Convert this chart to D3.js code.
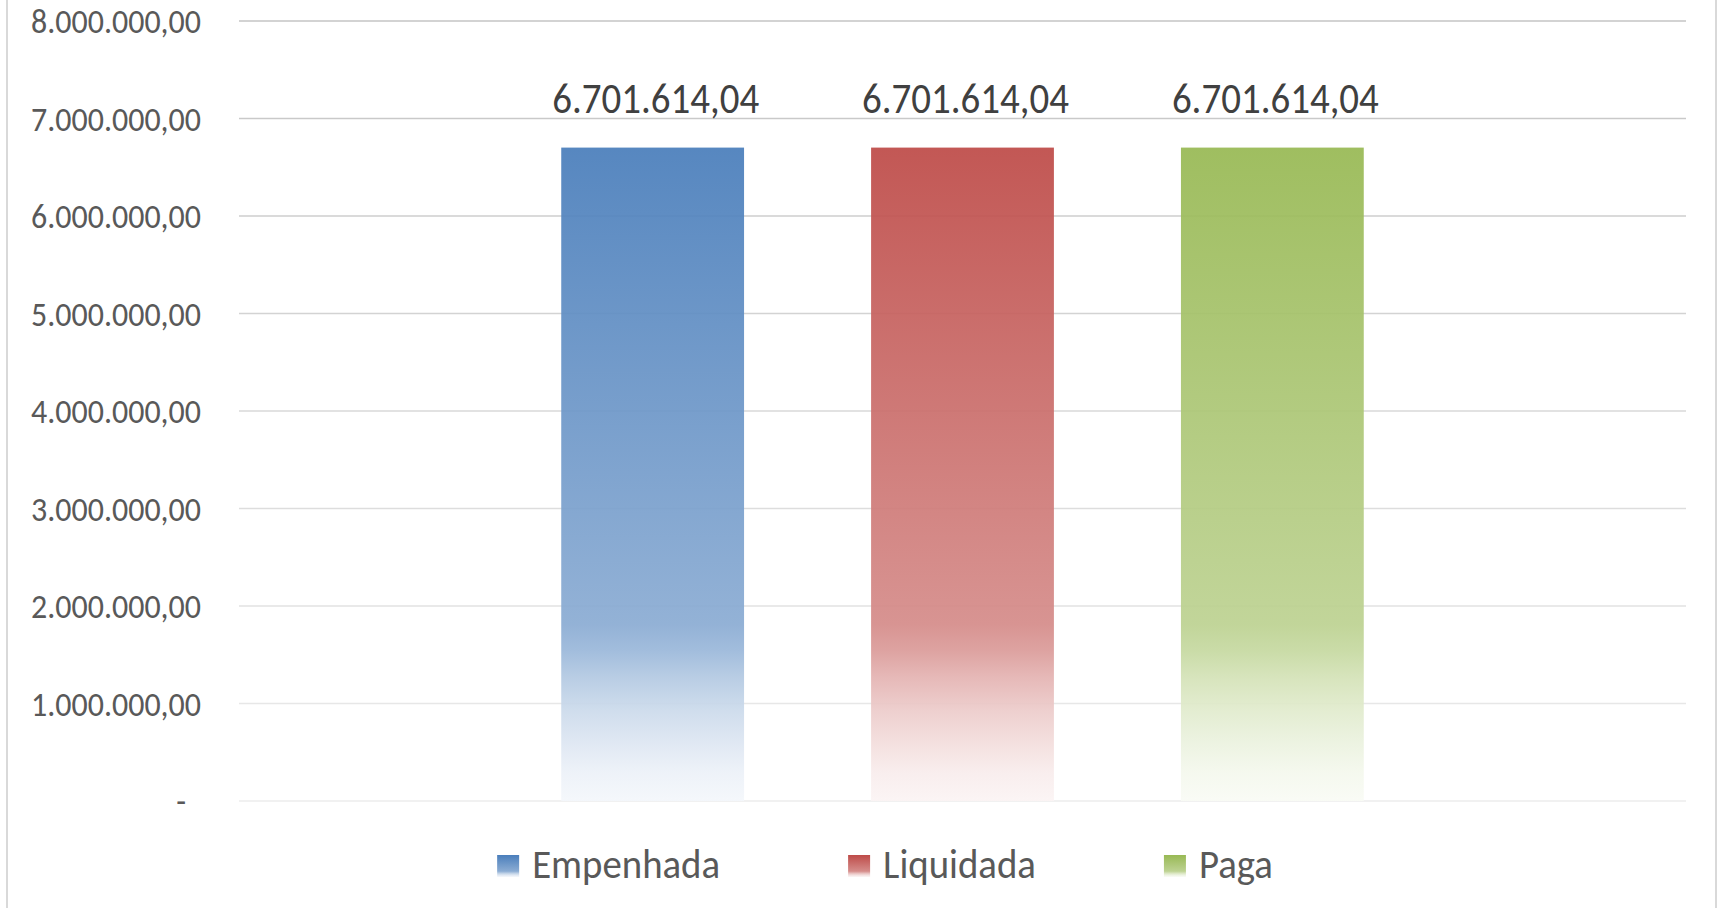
<!DOCTYPE html>
<html>
<head>
<meta charset="utf-8">
<script src="https://cdn.jsdelivr.net/npm/d3@7"></script>
<style>
  body { margin: 0; background: #fff; }
  text { font-family: Carlito, Calibri, Lato, sans-serif; }
</style>
</head>
<body>
<svg id="chart"></svg>
<script>
// data
const series = ["Empenhada", "Liquidada", "Paga"];
const values = [6701614.04, 6701614.04, 6701614.04];
const colors = ["#4a7ebb", "#be4b48", "#98b954"];
const yTicks = [0, 1000000, 2000000, 3000000, 4000000, 5000000, 6000000, 7000000, 8000000];

const W = 1723, H = 908;
const plotL = 239, plotR = 1686, plotT = 21, plotB = 801;

const br = d3.formatLocale({decimal: ",", thousands: ".", grouping: [3], currency: ["R$", ""]});
const fmt = br.format(",.2f");

const svg = d3.select("#chart").attr("width", W).attr("height", H);
const defs = svg.append("defs");

// excel style fade: tint towards white along the bar
const gOff = [0, 0.73, 0.77, 0.81, 0.86, 0.91, 0.955, 1];
const gTint = [0, 0.36, 0.45, 0.58, 0.71, 0.81, 0.895, 0.94];
series.forEach(function(s, i) {
    var lg = defs.append("linearGradient").attr("id", "grad" + i)
        .attr("x1", 0).attr("y1", 0).attr("x2", 0).attr("y2", 1);
    gOff.forEach(function(o, k) {
        lg.append("stop").attr("offset", o)
            .attr("stop-color", d3.interpolateRgb(colors[i], "#fff")(gTint[k]));
    });
});

// chart border
svg.append("rect").attr("x", 7).attr("y", -5).attr("width", 1709).attr("height", H + 10)
    .attr("fill", "none").attr("stroke", "#d9d9d9").attr("stroke-width", 2);

var y = d3.scaleLinear().domain([0, 8000000]).range([plotB, plotT]);
var x0 = d3.scaleBand().domain(["total"]).range([plotL, plotR]);
var x1 = d3.scaleBand().domain(series).range([0, x0.bandwidth()])
    .paddingInner(0.41).paddingOuter(1.04);

// gridlines, lighter toward the bottom
var gridCol = d3.scaleLinear().domain([0, 8000000]).range(["#ececec", "#c4c4c4"]);
svg.append("g").selectAll("line").data(yTicks).join("line")
    .attr("x1", plotL).attr("x2", plotR)
    .attr("y1", d => y(d)).attr("y2", d => y(d))
    .attr("stroke", d => gridCol(d)).attr("stroke-width", 1.6);

// y axis labels
var yAxis = svg.append("g").attr("transform", "translate(" + plotL + ",0)")
    .call(d3.axisLeft(y).tickValues(yTicks).tickSize(0).tickPadding(38)
        .tickFormat(d => d === 0 ? "-" : fmt(d)));
yAxis.select(".domain").remove();
yAxis.attr("font-family", null);
yAxis.selectAll("text").attr("fill", "#595959").attr("dy", "0.33em");
yAxis.selectAll(".tick").filter(d => d === 0).select("text").attr("x", -53);

// bars
var bars = svg.append("g").attr("transform", "translate(" + x0("total") + ",0)");
bars.selectAll("rect").data(values).join("rect")
    .attr("x", (d, i) => x1(series[i]))
    .attr("width", x1.bandwidth())
    .attr("y", d => y(d))
    .attr("height", d => y(0) - y(d))
    .attr("fill", (d, i) => "url(#grad" + i + ")")
    .attr("opacity", 0.93);

var labels = bars.selectAll("text").data(values).join("text")
    .attr("x", (d, i) => x1(series[i]) + x1.bandwidth() / 2 + 3)
    .attr("y", d => y(d) - 35)
    .attr("text-anchor", "middle")
    .attr("fill", "#404040")
    .text(d => fmt(d));

// legend
var legend = svg.append("g");
var items = legend.selectAll("g").data(series).join("g");
items.append("rect").attr("width", 22).attr("height", 22).attr("y", 855)
    .attr("fill", (d, i) => "url(#grad" + i + ")");
var legText = items.append("text").attr("y", 878).attr("fill", "#595959").text(d => d);

// size fonts so the widths match the picture
function fit(sel, target) {
    sel.attr("font-size", 30);
    var w = d3.max(sel.nodes(), n => n.getComputedTextLength());
    var fs = 30 * target / w;
    sel.attr("font-size", fs);
    return fs;
}
// the picture's text is a bit taller than the font gives
function stretch(sel, s) {
    sel.each(function() {
        var t = d3.select(this);
        var tx = +t.attr("x") || 0, ty = +t.attr("y") || 0;
        t.attr("x", 0).attr("y", 0)
            .attr("transform", "translate(" + tx + "," + ty + ") scale(1," + s + ")");
    });
}
var axisFs = fit(yAxis.selectAll(".tick text").filter(d => d !== 0), 170);
yAxis.selectAll(".tick").filter(d => d === 0).select("text").attr("font-size", axisFs);
fit(labels, 207);
var legFs = fit(legText.filter(d => d === "Empenhada"), 188);
legText.attr("font-size", legFs);

// lay the legend out from text widths, centred
var xPos = 0;
items.each(function() {
    var g = d3.select(this);
    g.select("rect").attr("x", xPos);
    g.select("text").attr("x", xPos + 35);
    xPos += 35 + g.select("text").node().getComputedTextLength() + 128;
});
var total = xPos - 128;
legend.attr("transform", "translate(" + (885 - total / 2) + ",0)");

stretch(yAxis.selectAll(".tick text"), 1.12);
stretch(labels, 1.1);
stretch(legText, 1.07);
</script>
</body>
</html>
